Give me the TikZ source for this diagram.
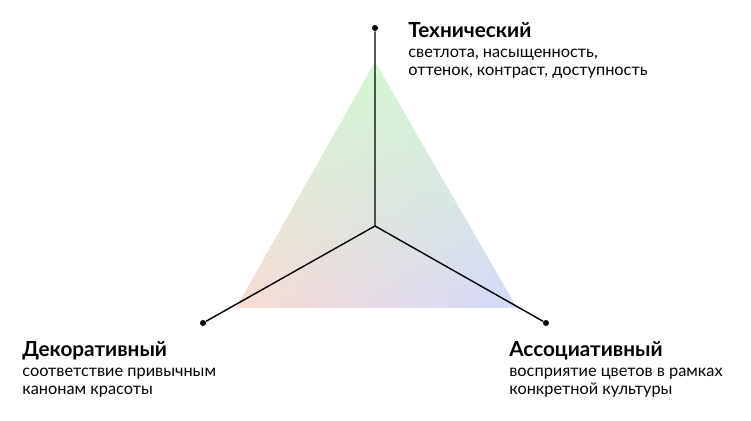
\documentclass[tikz,border=0pt]{standalone}
\usepackage{fontspec}
\setmainfont{Lato}
\usetikzlibrary{fadings}

\definecolor{topgreen}{HTML}{D3F7D3}
\definecolor{leftpeach}{HTML}{FADCD2}
\definecolor{midpink}{HTML}{F0D8F2}
\definecolor{rightblue}{HTML}{D3DAFC}
\tikzfading[name=fadedown, top color=transparent!0, bottom color=transparent!100]

\tikzset{
  dot/.style={circle, fill=black, inner sep=0pt, minimum size=3.4pt},
  axis/.style={line width=0.8pt},
  title/.style={anchor=base west, inner sep=0pt, font=\fontsize{11.8}{13}\selectfont\bfseries},
  descr/.style={anchor=base west, inner sep=0pt, align=left, font=\fontsize{9.3}{10.4}\selectfont}
}

\begin{document}
\begin{tikzpicture}[x=0.02cm, y=-0.02cm]
    \useasboundingbox (0,0) rectangle (751,421);
    % triangle with soft colours
    \coordinate (top) at (375,62);
    \coordinate (bl) at (236,308);
    \coordinate (br) at (517,308);
    \shade[left color=leftpeach, middle color=midpink, right color=rightblue] (top) -- (bl) -- (br) -- cycle;
    \fill[topgreen, path fading=fadedown] (top) -- (bl) -- (br) -- cycle;
    % axes
    \coordinate (c) at (375,226);
    \node[dot] (tech) at (375,28) {};
    \node[dot] (deco) at (203,323) {};
    \node[dot] (assoc) at (546,323) {};
    \draw[axis] (tech) -- (c) -- (deco);
    \draw[axis] (c) -- (assoc);
    % labels (descr is set on the baseline of its last line)
    \node[title] (techtitle) at (408,38) {Технический};
    \node[descr] (techtext) at (408,76) {светлота, насыщенность,\\оттенок, контраст, доступность};
    \node[title] (decotitle) at (22,357) {Декоративный};
    \node[descr] (decotext) at (22,395) {соответствие привычным\\канонам красоты};
    \node[title] (assoctitle) at (509,357) {Ассоциативный};
    \node[descr] (assoctext) at (509,395) {восприятие цветов в рамках\\конкретной культуры};
\end{tikzpicture}
\end{document}
